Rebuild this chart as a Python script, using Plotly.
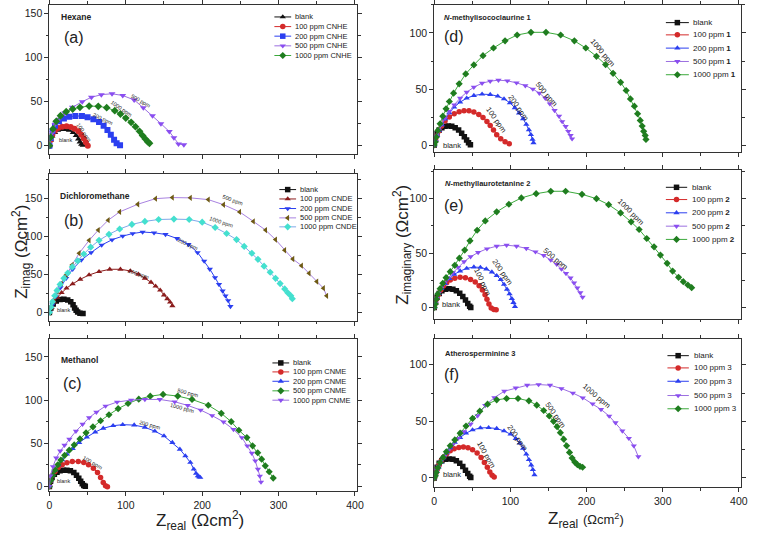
import plotly.graph_objects as go

# ======================= DATA =======================
# (a) Hexane
hex_names = ["blank", "100 ppm CNHE", "200 ppm CNHE", "500 ppm CNHE", "1000 ppm CNHE"]
hex_blank_x = [0, 1.5, 3.5, 7, 11, 16, 21, 26, 31, 35, 38, 40, 42, 44]
hex_blank_y = [0, 6, 11, 15, 17.5, 18.5, 18.5, 17.5, 15, 11.5, 7.5, 4, 1.5, 0.5]
hex_100_x = [0, 1.7, 3.9, 7.3, 11.6, 16.8, 22.4, 28, 33, 38, 41.7, 45, 47.7, 50.3]
hex_100_y = [0, 6.4, 12.5, 17, 20, 21.6, 22, 21.2, 19.3, 16.3, 12.5, 8, 3.8, 0]
hex_200_x = [0, 1.7, 3.9, 7.3, 12.5, 19, 26, 34, 42.6, 50, 57.6, 65, 71, 76, 80.4, 84.7, 88, 92.5]
hex_200_y = [0, 8.7, 16.3, 22.7, 27.7, 31, 33, 33.7, 33.7, 32.2, 30, 27, 22.7, 17.8, 12.5, 6.8, 2.7, 0.4]
hex_500_x = [0, 1.7, 3.9, 7.3, 12.5, 20, 30, 43, 55, 68, 82, 96, 111, 123, 135, 146, 157, 163, 169, 176]
hex_500_y = [0, 7.6, 15, 24, 30, 37, 43.6, 50, 55, 58, 59, 57, 52, 43, 34, 25, 16, 9, 2, 1]
hex_1000_x = [0, 1.7, 4.7, 9, 14.6, 22, 30.5, 40, 52, 64, 75, 85.6, 93, 100, 107, 112.7, 118, 122, 125.6, 128.6, 131]
hex_1000_y = [0, 9.5, 19, 27.7, 34, 38.6, 41.7, 43.6, 45, 44.7, 43.2, 39.8, 36, 31.4, 26.5, 21.6, 16.3, 11.4, 7.6, 4.5, 2.7]

# (b) Dichloromethane
dcm_names = ["blank", "100 ppm CNDE", "200 ppm CNDE", "500 ppm CNDE", "1000 ppm CNDE"]
dcm_blank_x = [0, 2, 5, 9, 14, 19, 24, 28, 31, 33, 35, 37, 40, 44]
dcm_blank_y = [0, 6, 11, 15, 17, 17.5, 16.5, 14, 10, 6, 3, 0.5, -1, -1.5]
dcm_100_x = [0, 3, 6, 10.3, 16, 22.4, 30.5, 40.4, 52, 65, 79, 93, 106, 116.6, 125, 133, 139, 145, 150, 154.4, 158, 161]
dcm_100_y = [0, 6.6, 13.6, 20, 26, 32, 37.6, 43.7, 49.4, 53.8, 56.9, 56.9, 54.7, 50.3, 45, 39.8, 34.6, 29.3, 23, 18, 13.6, 8.7]
dcm_200_x = [0, 3.9, 8.2, 14.6, 22, 30.5, 41.7, 54.6, 68.4, 82, 96, 109, 122, 137, 152, 167, 182, 194, 202.6, 210, 216.8, 222, 226.7, 230.5, 234, 237]
dcm_200_y = [0, 10, 21, 32.8, 45, 57, 69, 79, 88.8, 95.8, 100.6, 104, 106, 105, 102.8, 97.5, 89.7, 79, 67.8, 57, 46, 37, 28.4, 21.9, 15.7, 7.9]
dcm_500_x = [0, 3, 6, 10.3, 16, 22, 29.7, 39, 52, 64, 77, 92, 115.7, 139, 161, 184.5, 208, 228, 249, 267, 283, 296, 308, 318.7, 330, 340, 350, 358.7, 363]
dcm_500_y = [0, 7.9, 16.6, 27.6, 38.5, 49.4, 62.6, 78, 95, 108.5, 121.6, 132.5, 142.6, 150, 151.4, 151, 148.7, 142, 132.5, 120, 108.5, 96, 82, 70.4, 61.7, 51.6, 40.7, 32, 21.9]
dcm_1000_x = [0, 2, 4, 7, 10, 14, 19, 24, 30, 37, 45, 54, 65, 78, 92, 108, 125, 143, 163, 183, 200, 217, 232, 245, 255, 265, 273, 281, 289, 296, 302, 308, 312, 316, 318]
dcm_1000_y = [0, 7, 14, 22, 29, 37, 45, 52, 60, 68, 77, 86, 95, 103, 110, 116, 120, 122.5, 123, 122.5, 119, 112, 104, 96, 87, 78, 70, 61, 53, 45, 38, 31, 26, 22, 18]

# (c) Methanol
meth_names = ["blank", "100 ppm CNME", "200 ppm CNME", "500 ppm CNME", "1000 ppm CNME"]
meth_blank_x = [0, 1.5, 3.5, 6.5, 10, 14, 18.5, 23, 27.5, 32, 35.5, 38.5, 41, 43, 45, 47]
meth_blank_y = [0, 6, 10.5, 14, 16.5, 18, 18.8, 18.8, 18, 16, 13, 9.5, 6, 3, 1, 0.2]
meth_100_x = [0, 1.7, 3.9, 7.3, 11.6, 16.8, 23, 30, 37.8, 45, 51.2, 57.6, 63, 67, 70.5, 73.5, 76]
meth_100_y = [0, 6.5, 12.3, 17.3, 22, 25, 27.3, 28.8, 28.8, 27.7, 25, 21, 16, 10.3, 4.6, 0.7, -0.4]
meth_200_x = [0, 1.7, 3.9, 7.3, 11.6, 16.8, 23, 30.5, 39, 49, 60, 70.5, 83.4, 96, 111, 125, 138, 150, 161, 170.8, 178, 184.5, 189, 192, 194.4, 196, 197.5]
meth_200_y = [0, 6.5, 12.3, 18.8, 25, 30.7, 37.3, 43.8, 50.7, 57, 63, 67.3, 70.3, 71.5, 71, 68.4, 64, 58.4, 50.7, 43, 35.3, 27.7, 20, 15, 12.3, 11, 10.4]
meth_500_x = [0, 2, 4.5, 7.5, 11, 15, 20, 26, 32.5, 40, 48, 57, 67, 78, 90, 103, 117, 132, 148.8, 168, 186.7, 208, 225, 238, 248, 258.5, 266, 272.7, 277.8, 282.6, 287.7, 293]
meth_500_y = [0, 7, 13, 19, 25, 30.5, 36, 42, 48, 55, 62, 69, 76, 83, 90, 96, 101, 104.5, 106.5, 104.6, 100.7, 94, 84.6, 75, 65, 56.5, 47, 39, 31.5, 23.8, 17, 9.6]
meth_1000_x = [0, 1.3, 4.7, 9, 14.2, 19.8, 26.2, 34.8, 43.4, 52, 61.5, 73.5, 88.6, 107, 125, 144.5, 164, 181, 198, 213, 228, 241, 252, 259, 265, 269.5, 273, 275.5, 277]
meth_1000_y = [0, 12.3, 23, 33, 41, 47.7, 54.6, 64, 72, 79.6, 86, 93, 97.7, 100, 100.7, 100.7, 98, 93.8, 88.4, 82, 74.6, 66, 56.5, 47, 38.4, 29.6, 20, 12, 5]

# (d) N-methylisococlaurine 1
d_names = ["blank", "100 ppm <b>1</b>", "200 ppm <b>1</b>", "500 ppm <b>1</b>", "1000 ppm <b>1</b>"]
d_blank_x = [0, 1.5, 3.5, 6.5, 10, 14, 18.5, 23, 27.5, 32, 36, 39.5, 42.5, 45, 47.5]
d_blank_y = [0, 5, 10, 13.5, 15.5, 16.8, 17, 16.8, 15.5, 13.5, 10.5, 7.5, 4.5, 2, 0.2]
d_100_x = [0, 1.7, 3.4, 6, 9.5, 14.2, 19.8, 26.2, 32.7, 39.1, 45.6, 52, 58.5, 64, 69.2, 73.5, 77.8, 82, 87.3, 93, 98.5]
d_100_y = [0, 3.9, 8, 12.5, 17, 21.4, 25, 27.9, 29.7, 30.6, 30.6, 29.4, 27.3, 24.6, 21, 17.5, 13.4, 9.2, 5.6, 3, 1.2]
d_200_x = [0, 1.7, 3.9, 6.5, 9.9, 14.2, 19.8, 26.2, 34, 42.6, 52, 62.8, 73.5, 83.4, 91.6, 99.4, 105.8, 111.4, 116.6, 120.9, 124.3, 126.9, 129, 130.3]
d_200_y = [0, 3.9, 8.6, 13, 18, 23.4, 28.8, 33.8, 38.3, 41.8, 44.2, 45.4, 45.1, 43.6, 41.2, 37.7, 33.2, 28.5, 23.4, 18.4, 13.6, 9.2, 5, 2]
d_500_x = [0, 1.7, 3.4, 6, 9.5, 14.2, 19.8, 26.2, 34, 42.6, 52, 62.8, 73.5, 84.3, 96, 108, 119.6, 129.5, 138, 145.8, 151.8, 158, 163.9, 168, 172.5, 176, 179, 181]
d_500_y = [0, 3.3, 8, 13, 18.4, 24, 30, 35.9, 41.8, 47.2, 51.6, 55.2, 57, 57.9, 57.3, 55.5, 53, 50, 46.3, 41.8, 36.8, 30.9, 25.8, 21, 16.6, 12.2, 8.6, 5.6]
d_1000_x = [0, 1.3, 2.6, 4.7, 7.7, 11.2, 15.5, 19.8, 25.4, 32.7, 41.3, 52, 64, 77.8, 93, 108.8, 127, 146.7, 166, 184, 199, 213, 225, 234.8, 244.7, 252, 257.6, 262.8, 267, 270.5, 273, 275, 277, 278]
d_1000_y = [0, 2.7, 7.1, 13, 19, 25.8, 32.3, 38.9, 46.3, 54.6, 63.5, 71.5, 79.8, 86.6, 93, 98.2, 100.6, 100.6, 98.2, 93, 86.6, 79.2, 71.8, 64, 56, 48.7, 41.2, 34.7, 27.9, 22, 16.9, 12.2, 8.6, 5]

# (e) N-methyllaurotetanine 2
e_names = ["blank", "100 ppm <b>2</b>", "200 ppm <b>2</b>", "500 ppm <b>2</b>", "1000 ppm <b>2</b>"]
e_blank_x = [0, 1.5, 3.5, 6.5, 10, 14.5, 19.5, 24.5, 29, 33.5, 37.5, 41, 44, 46.5, 48]
e_blank_y = [0, 5, 9.5, 13, 15.5, 16.8, 17.2, 16.8, 15.5, 13.2, 10.2, 7, 3.8, 1.2, 0]
e_100_x = [0, 1.7, 3.4, 5.6, 8.6, 12, 16.3, 21, 27, 34, 40.9, 47.7, 53.8, 58.9, 63.2, 66.7, 69.2, 71.8, 74.8, 78.3, 81.3]
e_100_y = [0, 4, 8.2, 12.2, 16.2, 19.8, 22.9, 25.3, 26.9, 27.8, 27.4, 25.9, 23.5, 20.1, 16.2, 11.9, 7.6, 3.4, -0.3, -1.8, -2.1]
e_200_x = [0, 1.7, 3.4, 6, 9.5, 14.2, 19.8, 26.2, 34, 42.6, 52, 60.6, 68.4, 75.7, 82, 87.3, 91.6, 95.5, 98.9, 101.9, 104, 106]
e_200_y = [0, 4, 8.2, 12.8, 17.4, 22, 26.5, 30.5, 33.5, 36, 37.2, 36.9, 35.4, 32.6, 29.3, 25.6, 21.3, 16.8, 12.5, 8.2, 4.6, 0.9]
e_500_x = [0, 1.7, 3.4, 5.6, 9, 13.3, 18.5, 24.5, 31.4, 39.1, 47.7, 57.6, 69.2, 82, 95, 108, 120.9, 132.9, 143.7, 153, 160.8, 167, 173, 178.9, 183.6, 187.9, 191.8, 194.8]
e_500_y = [0, 4, 8.5, 13.1, 17.7, 22.3, 27.2, 32, 36.9, 42.1, 46.7, 50.6, 54, 56.4, 57.3, 56.4, 54.3, 51.2, 47.9, 43.6, 39.7, 35.4, 31.4, 27.2, 22.6, 18, 13.7, 9.5]
e_1000_x = [0, 1.3, 2.6, 4.7, 7.7, 11.2, 15.5, 21, 27, 33, 40, 46.9, 56.3, 67, 82, 98, 114.4, 133.8, 153, 172.5, 194, 213, 229, 244.7, 258.5, 269, 279, 288.6, 297, 305.8, 313, 320.8, 327, 333, 338]
e_1000_y = [0, 3.4, 7.7, 12.5, 17.4, 22.3, 27.5, 33, 38.8, 45.4, 52.8, 61.3, 71, 79.6, 87.9, 94.9, 100.7, 104.6, 106.8, 106.8, 104, 100, 94.5, 86.9, 78.7, 71.7, 63.4, 55.8, 48.2, 40.6, 33.5, 27.8, 23.8, 20.7, 18.3]

# (f) Atherosperminine 3
f_names = ["blank", "100 ppm 3", "200 ppm 3", "500 ppm 3", "1000 ppm 3"]
f_blank_x = [0, 1.5, 3.5, 6.5, 10, 14.5, 19.5, 24.5, 29, 33.5, 37.5, 41, 44, 46.5, 48]
f_blank_y = [0, 5, 9.5, 13, 15.2, 16.5, 16.8, 16.5, 15.2, 13, 10, 6.8, 3.8, 1.5, 0.3]
f_100_x = [0, 1.3, 2.6, 4.3, 6.5, 9, 12.5, 16.3, 21, 26.2, 32.3, 38.3, 44.3, 50.3, 56.3, 61.5, 65.8, 69.7, 73, 76, 78.7]
f_100_y = [0, 2, 4.7, 7.9, 11.4, 14.9, 18.4, 21.3, 24, 25.7, 26.9, 27.2, 26.6, 24.9, 21.9, 18.1, 13.7, 9.4, 5.3, 2.3, 0.9]
f_200_x = [0, 1.7, 3.4, 5.6, 8.6, 12, 16.3, 21, 27, 34, 41.7, 50.3, 60.6, 71.4, 82, 91.6, 100.2, 107, 112.3, 116.6, 120.9, 124.3, 127.3, 129.5, 131.6]
f_200_y = [0, 2.6, 5.8, 9.6, 13.7, 17.8, 22.2, 26.6, 31.3, 35.7, 39.5, 42.4, 44.2, 44.4, 43.6, 41.5, 38.6, 34.8, 30.7, 26, 21, 16.1, 11.4, 7.3, 2.6]
f_500_x = [0, 1.7, 3.4, 5.6, 9, 13.3, 18.5, 24.5, 31.4, 39, 47.7, 57, 67, 79, 92, 107, 122, 137, 152, 167, 182, 195, 208, 219, 229.7, 238, 247, 255.5, 262, 268]
f_500_y = [0, 3, 6.5, 10, 14.5, 19, 24, 29.5, 35, 41, 47.5, 55, 64, 71, 76.6, 79.5, 81.9, 82.5, 81.9, 79, 75, 70.8, 65.5, 60.5, 54.7, 48.8, 41.5, 35, 28.4, 18.7]
f_1000_x = [0, 1.3, 2.6, 4.7, 7.7, 11.6, 15.9, 21, 27, 34, 41.7, 50.3, 59.8, 70, 82, 95, 110, 124.3, 134.6, 143.7, 151, 156.6, 161.3, 165.6, 170, 173.8, 177.6, 181, 184.5, 188, 191.4, 194.8]
f_1000_y = [0, 2, 5, 9, 13.5, 18.1, 23.1, 28.4, 33.6, 39.5, 45.9, 52.6, 59, 65.2, 69, 70.2, 70.2, 68.1, 64.3, 59.6, 54.7, 50, 45.3, 40, 34.2, 28.4, 22.5, 17.5, 14, 11.7, 10.2, 9.4]

# tick labels
x_ticks = [0, 100, 200, 300, 400]
y_ticks_left = [0, 50, 100, 150]
y_ticks_right = [0, 50, 100]

# ======================= STYLE / LAYOUT =======================
W, H = 760, 535
FONT = "Liberation Sans, Arial, Helvetica, sans-serif"
INK = "#222222"

BLACK = "#111111"
RED = "#d42a2a"
BLUE = "#2b3ff0"
PURPLE = "#8a4ef0"
PURPLE_L = "#9b6fe0"
GREEN_M = "#1f7d1f"
GREEN_L = "#3caa3c"
DKRED = "#8b1c1c"
BROWN = "#6e5a14"
LAVENDER = "#a882e0"
CYAN = "#44e0cf"
CYAN_L = "#7fa8e8"


def sty(sym, mc, lc):
    return dict(sym=sym, mc=mc, lc=lc)


def px2x(p):
    return p / W


def px2y(p):
    return 1 - p / H


panels = [
    dict(xdom=(47, 359), ydom=(4, 154), yr=(-10, 160), yt=y_ticks_left, xlab=False,
         series=[(hex_blank_x, hex_blank_y), (hex_100_x, hex_100_y), (hex_200_x, hex_200_y),
                 (hex_500_x, hex_500_y), (hex_1000_x, hex_1000_y)],
         styles=[sty("triangle-up", BLACK, BLACK), sty("circle", RED, RED), sty("square", BLUE, BLUE),
                 sty("triangle-down", PURPLE, PURPLE_L), sty("diamond", GREEN_M, GREEN_L)],
         names=hex_names, ms=6,
         title="<b>Hexane</b>", title_xy=(57, 16), tsize=8.5, tag="(a)", tag_xy=(60, 37),
         leg=dict(x0=275, x1=292, tx=294, ys=[16, 25.7, 35.3, 45, 54.7], size=7.5, ms=5.5),
         ctext=[("500 ppm", 120, 51, 30), ("1000 ppm", 95, 41.7, 35), ("200 ppm", 70.5, 30, 25),
                ("100 ppm", 44.7, 15, 55), ("blank", 21, 6.4, 0)], csize=5.5),
    dict(xdom=(47, 359), ydom=(174, 321), yr=(-11, 182), yt=y_ticks_left, xlab=False,
         series=[(dcm_blank_x, dcm_blank_y), (dcm_100_x, dcm_100_y), (dcm_200_x, dcm_200_y),
                 (dcm_500_x, dcm_500_y), (dcm_1000_x, dcm_1000_y)],
         styles=[sty("square", BLACK, BLACK), sty("triangle-up", DKRED, DKRED), sty("triangle-down", BLUE, BLUE),
                 sty("triangle-left", BROWN, LAVENDER), sty("diamond", CYAN, CYAN_L)],
         names=dcm_names, ms=5.5,
         title="<b>Dichloromethane</b>", title_xy=(56, 196), tsize=8.5, tag="(b)", tag_xy=(60, 220),
         leg=dict(x0=280, x1=297, tx=299, ys=[189.3, 198.7, 208.3, 217.7, 226.7], size=7.5, ms=5.5),
         ctext=[("500 ppm", 240, 148, 20), ("1000 ppm", 225, 119, 18), ("200 ppm", 181, 89.7, 25),
                ("100 ppm", 117, 51, 18), ("blank", 19, 3.5, 0)], csize=5.5),
    dict(xdom=(47, 359), ydom=(339, 492), yr=(-5.5, 171), yt=y_ticks_left, xlab=True,
         series=[(meth_blank_x, meth_blank_y), (meth_100_x, meth_100_y), (meth_200_x, meth_200_y),
                 (meth_500_x, meth_500_y), (meth_1000_x, meth_1000_y)],
         styles=[sty("square", BLACK, BLACK), sty("circle", RED, RED), sty("triangle-up", BLUE, BLUE),
                 sty("diamond", GREEN_M, GREEN_L), sty("triangle-down", PURPLE, PURPLE_L)],
         names=meth_names, ms=5.5,
         title="<b>Methanol</b>", title_xy=(57, 360), tsize=8.5, tag="(c)", tag_xy=(59, 384),
         leg=dict(x0=273, x1=290, tx=292, ys=[363.3, 372.3, 381.7, 391.3, 400.7], size=7.5, ms=5.5),
         ctext=[("500 ppm", 182, 107.6, 15), ("1000 ppm", 174, 91, 15), ("200 ppm", 132, 71, 15),
                ("100 ppm", 57.6, 27.6, 30), ("blank", 19, 6.5, 0)], csize=5.5),
    dict(xdom=(437, 748), ydom=(4, 152), yr=(-6.6, 125), yt=y_ticks_right, xlab=False,
         series=[(d_blank_x, d_blank_y), (d_100_x, d_100_y), (d_200_x, d_200_y),
                 (d_500_x, d_500_y), (d_1000_x, d_1000_y)],
         styles=[sty("square", BLACK, BLACK), sty("circle", RED, RED), sty("triangle-up", BLUE, BLUE),
                 sty("triangle-down", PURPLE, PURPLE_L), sty("diamond", GREEN_M, GREEN_L)],
         names=d_names, ms=5.5,
         title="<b><i>N</i>-methylisococlaurine 1</b>", title_xy=(445, 17), tsize=7.5, tag="(d)", tag_xy=(445, 36),
         leg=dict(x0=671.7, x1=695, tx=697, ys=[21.7, 34, 47.3, 60.7, 74], size=8, ms=5.5),
         ctext=[("1000 ppm", 221, 82.5, 50), ("500 ppm", 148, 45.4, 50), ("200 ppm", 110.5, 33.5, 55),
                ("100 ppm", 81.3, 23, 55), ("blank", 23, 0, 0)], csize=7.5),
    dict(xdom=(437, 748), ydom=(170, 319), yr=(-10.3, 126), yt=y_ticks_right, xlab=False,
         series=[(e_blank_x, e_blank_y), (e_100_x, e_100_y), (e_200_x, e_200_y),
                 (e_500_x, e_500_y), (e_1000_x, e_1000_y)],
         styles=[sty("square", BLACK, BLACK), sty("circle", RED, RED), sty("triangle-up", BLUE, BLUE),
                 sty("triangle-down", PURPLE, PURPLE_L), sty("diamond", GREEN_M, GREEN_L)],
         names=e_names, ms=5.5,
         title="<b><i>N</i>-methyllaurotetanine 2</b>", title_xy=(446, 183), tsize=7.5, tag="(e)", tag_xy=(445, 205),
         leg=dict(x0=671.7, x1=693.3, tx=696, ys=[187, 199.3, 212.6, 226, 239.3], size=8, ms=5.5),
         ctext=[("1000 ppm", 257.6, 87.9, 45), ("500 ppm", 158.7, 45, 40), ("200 ppm", 89, 33, 55),
                ("100 ppm", 63, 23.8, 65), ("blank", 22, 2.5, 0)], csize=7.5),
    dict(xdom=(437, 748), ydom=(339, 488), yr=(-8.2, 123), yt=y_ticks_right, xlab=True,
         series=[(f_blank_x, f_blank_y), (f_100_x, f_100_y), (f_200_x, f_200_y),
                 (f_500_x, f_500_y), (f_1000_x, f_1000_y)],
         styles=[sty("square", BLACK, BLACK), sty("circle", RED, RED), sty("triangle-up", BLUE, BLUE),
                 sty("triangle-down", PURPLE, PURPLE_L), sty("diamond", GREEN_M, GREEN_L)],
         names=f_names, ms=5.5,
         title="<b>Atherosperminine 3</b>", title_xy=(446, 354), tsize=7.5, tag="(f)", tag_xy=(445, 375),
         leg=dict(x0=673.3, x1=695, tx=698, ys=[356, 368.3, 381.7, 396, 409.3], size=8, ms=5.5),
         ctext=[("1000 ppm", 212.5, 72.8, 40), ("500 ppm", 158.7, 56, 55), ("200 ppm", 109, 35.7, 55),
                ("100 ppm", 68.4, 21, 60), ("blank", 23, 3, 0)], csize=7.5),
]

fig = go.Figure()
annotations = []
layout_axes = {}

for i, p in enumerate(panels, start=1):
    xr = "x" if i == 1 else f"x{i}"
    yr = "y" if i == 1 else f"y{i}"
    xname = "xaxis" if i == 1 else f"xaxis{i}"
    yname = "yaxis" if i == 1 else f"yaxis{i}"
    axis_common = dict(showline=True, linecolor="#333", linewidth=1, mirror="ticks", ticks="outside",
                       ticklen=4, tickwidth=1, tickcolor="#333", showgrid=False, zeroline=False,
                       tickfont=dict(family=FONT, size=10.5, color=INK), fixedrange=True)
    layout_axes[xname] = dict(axis_common, domain=[px2x(p["xdom"][0]), px2x(p["xdom"][1])],
                              range=[0, 403], tickmode="array", tickvals=x_ticks,
                              showticklabels=p["xlab"], anchor=yr,
                              minor=dict(ticks="outside", ticklen=2.5, tickcolor="#333", dtick=50))
    layout_axes[yname] = dict(axis_common, domain=[px2y(p["ydom"][1]), px2y(p["ydom"][0])],
                              range=list(p["yr"]), tickmode="array", tickvals=p["yt"], anchor=xr,
                              minor=dict(ticks="outside", ticklen=2.5, tickcolor="#333", dtick=25))

    # data series
    for (xs, ys), s in zip(p["series"], p["styles"]):
        fig.add_trace(go.Scatter(x=xs, y=ys, xaxis=xr, yaxis=yr, mode="lines+markers",
                                 line=dict(color=s["lc"], width=1),
                                 marker=dict(symbol=s["sym"], color=s["mc"], size=p["ms"]),
                                 showlegend=False, hoverinfo="skip"))

    # manual legend on overlay pixel axes
    lg = p["leg"]
    for name, s, ly in zip(p["names"], p["styles"], lg["ys"]):
        xm = (lg["x0"] + lg["x1"]) / 2
        fig.add_trace(go.Scatter(x=[lg["x0"], lg["x1"]], y=[ly, ly], xaxis="x7", yaxis="y7",
                                 mode="lines", line=dict(color=s["lc"], width=1),
                                 showlegend=False, hoverinfo="skip"))
        fig.add_trace(go.Scatter(x=[xm], y=[ly], xaxis="x7", yaxis="y7",
                                 mode="markers", marker=dict(symbol=s["sym"], color=s["mc"], size=lg["ms"]),
                                 showlegend=False, hoverinfo="skip"))
        annotations.append(dict(x=lg["tx"], y=ly, xref="x7", yref="y7", text=name, showarrow=False,
                                xanchor="left", yanchor="middle",
                                font=dict(family=FONT, size=lg["size"], color=INK)))

    # titles and panel tags
    annotations.append(dict(x=p["title_xy"][0], y=p["title_xy"][1], xref="x7", yref="y7", text=p["title"],
                            showarrow=False, xanchor="left", yanchor="middle",
                            font=dict(family=FONT, size=p["tsize"], color=INK)))
    annotations.append(dict(x=p["tag_xy"][0], y=p["tag_xy"][1], xref="x7", yref="y7", text=p["tag"],
                            showarrow=False, xanchor="left", yanchor="middle",
                            font=dict(family=FONT, size=16, color=INK)))

    # curve labels
    for txt, cx, cy, ang in p["ctext"]:
        annotations.append(dict(x=cx, y=cy, xref=xr, yref=yr, text=txt, textangle=ang, showarrow=False,
                                font=dict(family=FONT, size=p["csize"], color=INK)))

# overlay pixel-coordinate axes for legends & text
layout_axes["xaxis7"] = dict(domain=[0, 1], range=[0, W], visible=False, anchor="y7", fixedrange=True)
layout_axes["yaxis7"] = dict(domain=[0, 1], range=[H, 0], visible=False, anchor="x7", fixedrange=True)

# axis titles
annotations += [
    dict(x=18, y=252, xref="x7", yref="y7", text="Z<sub>imag</sub> (Ωcm<sup>2</sup>)", textangle=-90,
         showarrow=False, font=dict(family=FONT, size=17, color=INK)),
    dict(x=404, y=245, xref="x7", yref="y7", text="Z<sub>imaginary</sub> (Ωcm<sup>2</sup>)", textangle=-90,
         showarrow=False, font=dict(family=FONT, size=17, color=INK)),
    dict(x=200, y=521, xref="x7", yref="y7", text="Z<sub>real</sub> (Ωcm<sup>2</sup>)",
         showarrow=False, font=dict(family=FONT, size=17, color=INK)),
    dict(x=591, y=521, xref="x7", yref="y7",
         text="Z<sub>real</sub> <span style='font-size:13px'>(Ωcm<sup>2</sup>)</span>",
         showarrow=False, font=dict(family=FONT, size=17, color=INK)),
]

fig.update_layout(width=W, height=H, margin=dict(l=0, r=0, t=0, b=0),
                  paper_bgcolor="white", plot_bgcolor="rgba(0,0,0,0)",
                  font=dict(family=FONT, color=INK), showlegend=False,
                  annotations=annotations, **layout_axes)

fig.write_html("out.html", config={"displayModeBar": False, "staticPlot": True},
               post_script="document.body.style.margin='0px';")
